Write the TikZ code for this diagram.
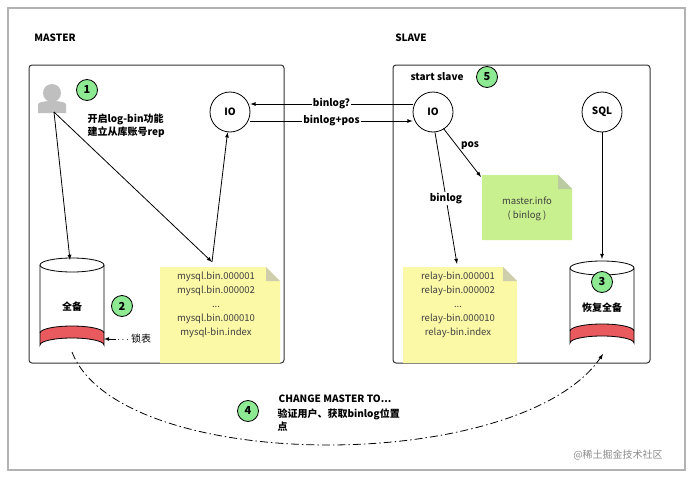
\documentclass[tikz,border=0pt]{standalone}
\usepackage{fontspec}
\setmainfont{Noto Sans CJK SC}
\usetikzlibrary{calc}
\usetikzlibrary{shapes.geometric}
\definecolor{notey}{HTML}{FBF8A6}
\definecolor{noteg}{HTML}{C8F08E}
\definecolor{stepg}{HTML}{8EEA92}
\definecolor{bandr}{HTML}{E85A5E}
\tikzset{
  frame/.style={draw=black!80,line width=1pt,rounded corners=3pt},
  proc/.style={circle,draw,line width=0.8pt,fill=white,minimum size=40pt,inner sep=0pt,font=\bfseries\fontsize{10}{12}\selectfont},
  stepno/.style={circle,draw,line width=0.8pt,fill=stepg,minimum size=21pt,inner sep=0pt,font=\bfseries\fontsize{11}{12}\selectfont},
  lbl/.style={font=\bfseries\fontsize{10}{13}\selectfont},
  ntxt/.style={align=center,font=\fontsize{9.5}{14}\selectfont,text=black!75},
  flow/.style={-latex,line width=0.8pt}
}
\newcommand{\notebox}[5]{% x1,y1,x2,y2,colour
  \fill[#5] (#1,#2) -- ({#3-14},#2) -- (#3,{#2+14}) -- (#3,#4) -- (#1,#4) -- cycle;
  \fill[#5!70!black!60] ({#3-14},#2) -- (#3,{#2+14}) -- ({#3-14},{#2+14}) -- cycle;}
\newcommand{\drum}[5]{% cx,ytop,ybottom,half width,name
  \fill[white] ({#1-#4},#2) rectangle ({#1+#4},#3);
  \fill[bandr] ({#1-#4},{#3-12}) -- ({#1-#4},#3) arc[start angle=180,end angle=360,x radius=#4,y radius=7] -- ({#1+#4},{#3-12}) arc[start angle=0,end angle=-180,x radius=#4,y radius=7];
  \draw[line width=0.8pt] ({#1-#4},#2) -- ({#1-#4},#3) arc[start angle=180,end angle=360,x radius=#4,y radius=7] -- ({#1+#4},#2);
  \draw[line width=0.8pt] ({#1-#4},{#3-12}) arc[start angle=180,end angle=360,x radius=#4,y radius=7];
  \draw[line width=0.8pt,fill=white] (#1,#2) ellipse[x radius=#4,y radius=7];
  \node[inner sep=0pt,minimum width=2*#4,minimum height={#3-#2+14}] (#5) at (#1,{(#2+#3)/2}) {};}
\begin{document}
\begin{tikzpicture}[x=1pt,y=-1pt]
\useasboundingbox (0,0) rectangle (694,479);
\fill[white] (0,0) rectangle (694,479);
\draw[black!30,line width=1.5pt] (8,8) rectangle (685,470);

\node[lbl] (mtitle) at (55,38) {MASTER};
\node[lbl] (stitle) at (411,38) {SLAVE};
\draw[frame] (29,65) rectangle (284,363);
\draw[frame] (393,65) rectangle (650,363);

% master side
\fill[black!25] (52,93) circle (9) (38,113) -- (38,104) .. controls (40,100) and (64,100) .. (66,104) -- (66,113) -- cycle;
\coordinate (user) at (54,112);
\node[stepno] (s1) at (87,90) {1};
\node[lbl,align=left,anchor=west] (setup) at (84,126) {开启log-bin功能\\建立从库账号rep};
\node[proc] (mio) at (230,112) {IO};
\drum{72}{265}{345}{32}{full}
\node[lbl] (fulltxt) at (72,307) {全备};
\node[stepno] (s2) at (122,306) {2};
\node[font=\fontsize{10}{12}\selectfont,anchor=west,inner sep=1pt] (lock) at (116,339) {$\cdots$ 锁表};
\draw[-latex,line width=0.8pt] (lock.west) -- (104,339);
\notebox{160}{267}{280}{363}{notey}
\node[ntxt] (mbin) at (216,305) {mysql.bin.000001\\mysql.bin.000002\\...\\mysql.bin.000010\\mysql-bin.index};
\coordinate (mbintop) at (212,262);
\draw[flow] (user) -- (70,260);
\draw[flow] (user) -- (mbintop);
\draw[flow] (mbintop) -- (mio);

% slave side
\node[lbl] (start) at (437,77) {start slave};
\node[stepno] (s5) at (487,77) {5};
\node[proc] (sio) at (433,112) {IO};
\node[proc] (sql) at (602,112) {SQL};
\draw[flow] (sio.west |- 0,104) -- node[lbl,fill=white,inner sep=1pt] {binlog?} (mio.east |- 0,104);
\draw[flow] (mio.east |- 0,121) -- node[lbl,fill=white,inner sep=1pt] {binlog+pos} (sio.west |- 0,121);
\notebox{482}{175}{572}{240}{noteg}
\node[ntxt] (minfo) at (527,209) {master.info\\( binlog )};
\draw[flow] (sio.south east) ++(-4,2) -- node[lbl,pos=0.45,above right=-3pt] {pos} (481,177);
\notebox{403}{267}{517}{363}{notey}
\node[ntxt] (rbin) at (458,305) {relay-bin.000001\\relay-bin.000002\\...\\relay-bin.000010\\relay-bin.index};
\draw[flow] (sio.south) ++(2,0) -- node[lbl,pos=0.5,fill=white,inner sep=1pt] {binlog} (457,264);
\drum{602}{268}{343}{32}{restore}
\draw[flow] (sql) -- (602,259);
\node[stepno] (s3) at (602,282) {3};
\node[lbl] (restxt) at (602,308) {恢复全备};

% change master
\draw[-latex,line width=0.8pt,dash pattern=on 8pt off 3pt on 1.5pt off 3pt] (72,352) .. controls (120,475) and (520,475) .. (603,354);
\node[stepno] (s4) at (248,411) {4};
\node[lbl] (cm) at (335,399) {CHANGE MASTER TO...};
\node[lbl,align=left,anchor=north west] (verify) at (274,405) {验证用户、获取binlog位置\\点};
\node[font=\fontsize{10}{12}\selectfont,text=black!45] (mark) at (618,455) {@稀土掘金技术社区};
\end{tikzpicture}
\end{document}
